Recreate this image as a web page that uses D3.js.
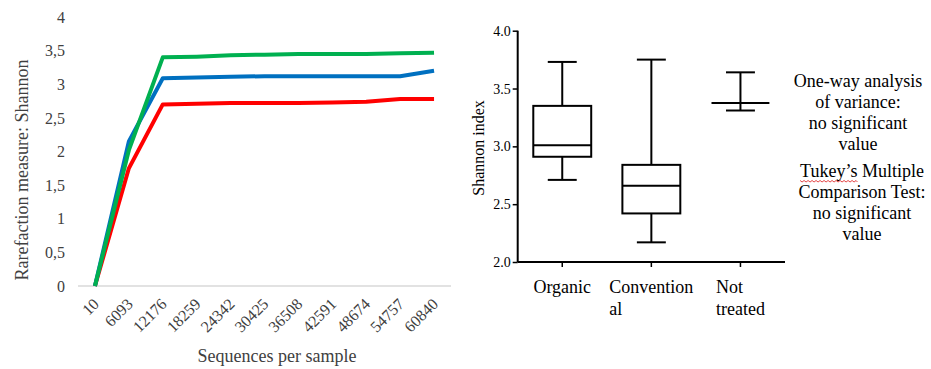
<!DOCTYPE html>
<html>
<head>
<meta charset="utf-8">
<script src="https://cdn.jsdelivr.net/npm/d3@7"></script>
<style>
  html, body { margin: 0; padding: 0; background: #fff; }
  svg { display: block; }
  text { font-family: "Liberation Serif", "Times New Roman", serif; }
</style>
</head>
<body>
<svg id="chart" width="931" height="369"></svg>
<script>
// ---- Rarefaction curves (Shannon) ----
const depths = ["10", "6093", "12176", "18259", "24342", "30425", "36508", "42591", "48674", "54757", "60840"];
const greenSeries = [0, 2.02, 3.40, 3.41, 3.43, 3.44, 3.45, 3.45, 3.45, 3.46, 3.47];
const blueSeries  = [0, 2.15, 3.09, 3.10, 3.11, 3.12, 3.12, 3.12, 3.12, 3.12, 3.20];
const redSeries   = [0, 1.75, 2.70, 2.71, 2.72, 2.72, 2.72, 2.73, 2.74, 2.78, 2.78];
const rarefactionTicks = [0, 0.5, 1, 1.5, 2, 2.5, 3, 3.5, 4];

// ---- Shannon index box plot ----
const groups = ["Organic", "Conventional", "Not treated"];
const groupLabelLines = [["Organic"], ["Convention", "al"], ["Not", "treated"]];
const boxMin    = [2.71, 2.17, 3.31];
const boxQ1     = [2.91, 2.42, 3.375];
const boxMedian = [3.01, 2.66, 3.375];
const boxQ3     = [3.35, 2.84, 3.375];
const boxMax    = [3.73, 3.75, 3.64];
const shannonTicks = [2.0, 2.5, 3.0, 3.5, 4.0];

const noteLines1 = ["One-way analysis", "of variance:", "no significant", "value"];
const noteLines2 = ["Tukey\u2019s Multiple", "Comparison Test:", "no significant", "value"];

const svg = d3.select("#chart");

// ================= Left: line chart =================
(function () {
  const x = d3.scaleBand().domain(depths).range([78, 451]).padding(0);
  const y = d3.scaleLinear().domain([0, 4]).range([286, 17]);
  const g = svg.append("g");
  const cx = d => x(d) + x.bandwidth() / 2;

  // baseline
  g.append("line")
    .attr("x1", 78).attr("x2", 451)
    .attr("y1", y(0)).attr("y2", y(0))
    .attr("stroke", "#d9d9d9").attr("stroke-width", 1.5);

  // y tick labels
  const yAxis = d3.axisLeft(y).tickValues(rarefactionTicks).tickSize(0).tickPadding(0)
    .tickFormat(v => String(v).replace(".", ","));
  const ya = g.append("g").attr("transform", "translate(65,0)").call(yAxis);
  ya.select(".domain").remove();
  ya.selectAll("text")
    .attr("font-family", null)
    .attr("font-size", 16).attr("fill", "#404040");
  ya.attr("font-family", null);

  // x tick labels, rotated
  g.selectAll("text.xt").data(depths).enter().append("text")
    .attr("class", "xt")
    .attr("transform", d => `translate(${cx(d) + 5},${305}) rotate(-45)`)
    .attr("text-anchor", "end")
    .attr("font-size", 16).attr("fill", "#404040")
    .text(d => d);

  // lines
  const line = d3.line().x((v, i) => cx(depths[i])).y(v => y(v));
  const series = [
    { values: redSeries, color: "#ff0000" },
    { values: blueSeries, color: "#0070c0" },
    { values: greenSeries, color: "#00b050" }
  ];
  g.selectAll("path.series").data(series).enter().append("path")
    .attr("class", "series")
    .attr("d", s => line(s.values))
    .attr("fill", "none")
    .attr("stroke", s => s.color)
    .attr("stroke-width", 4)
    .attr("stroke-linejoin", "round");

  // axis titles
  g.append("text")
    .attr("transform", "translate(28,170) rotate(-90)")
    .attr("text-anchor", "middle")
    .attr("font-size", 18).attr("fill", "#404040")
    .text("Rarefaction measure:  Shannon");
  g.append("text")
    .attr("x", 277).attr("y", 362)
    .attr("text-anchor", "middle")
    .attr("font-size", 18).attr("fill", "#404040")
    .text("Sequences per sample");
})();

// ================= Right: box plot =================
(function () {
  const x = d3.scaleBand().domain(groups).range([517.7, 785]).padding(0);
  const y = d3.scaleLinear().domain([2, 4]).range([262, 30.7]);
  const g = svg.append("g");
  const cx = d => x(d) + x.bandwidth() / 2;
  const boxW = x.bandwidth() * 0.65;
  const capW = boxW / 2;

  // y axis
  const ya = g.append("g").attr("transform", "translate(517.7,0)")
    .call(d3.axisLeft(y).tickValues(shannonTicks).tickSize(5).tickPadding(2).tickFormat(d3.format(".1f")));
  ya.attr("font-family", null);
  ya.select(".domain").attr("stroke", "#000").attr("stroke-width", 2).attr("d", `M0,${y(4)}V${y(2)}`);
  ya.selectAll(".tick line").attr("stroke", "#000").attr("stroke-width", 1.5);
  ya.selectAll("text").attr("font-size", 14).attr("fill", "#000");

  // x axis
  const xa = g.append("g").attr("transform", `translate(0,${y(2)})`)
    .call(d3.axisBottom(x).tickSize(5).tickFormat(""));
  xa.select(".domain").attr("stroke", "#000").attr("stroke-width", 2).attr("d", `M517.7,0H785`);
  xa.selectAll(".tick line").attr("stroke", "#000").attr("stroke-width", 1.5);

  // group labels (lines left-aligned within a centered block)
  groups.forEach((grp, i) => {
    const t = g.append("text").attr("font-size", 18).attr("fill", "#000");
    groupLabelLines[i].forEach((ln, j) => {
      t.append("tspan").attr("y", 293 + j * 22).text(ln);
    });
    const w = d3.max(t.selectAll("tspan").nodes(), n => n.getComputedTextLength());
    t.selectAll("tspan").attr("x", cx(grp) - w / 2);
  });

  // y title
  g.append("text")
    .attr("transform", "translate(484,148) rotate(-90)")
    .attr("text-anchor", "middle")
    .attr("font-size", 16).attr("fill", "#000")
    .text("Shannon index");

  // boxes and whiskers
  const data = groups.map((grp, i) => ({
    grp, min: boxMin[i], q1: boxQ1[i], med: boxMedian[i], q3: boxQ3[i], max: boxMax[i]
  }));
  const bg = g.selectAll("g.box").data(data).enter().append("g").attr("class", "box")
    .attr("stroke", "#000").attr("stroke-width", 2).attr("fill", "none");
  bg.append("line")
    .attr("x1", d => cx(d.grp)).attr("x2", d => cx(d.grp))
    .attr("y1", d => y(d.max)).attr("y2", d => y(d.q3));
  bg.append("line")
    .attr("x1", d => cx(d.grp)).attr("x2", d => cx(d.grp))
    .attr("y1", d => y(d.q1)).attr("y2", d => y(d.min));
  bg.append("line")
    .attr("x1", d => cx(d.grp) - capW / 2).attr("x2", d => cx(d.grp) + capW / 2)
    .attr("y1", d => y(d.max)).attr("y2", d => y(d.max));
  bg.append("line")
    .attr("x1", d => cx(d.grp) - capW / 2).attr("x2", d => cx(d.grp) + capW / 2)
    .attr("y1", d => y(d.min)).attr("y2", d => y(d.min));
  bg.append("rect")
    .attr("x", d => cx(d.grp) - boxW / 2).attr("width", boxW)
    .attr("y", d => y(d.q3)).attr("height", d => y(d.q1) - y(d.q3));
  bg.append("line")
    .attr("x1", d => cx(d.grp) - boxW / 2).attr("x2", d => cx(d.grp) + boxW / 2)
    .attr("y1", d => y(d.med)).attr("y2", d => y(d.med));

  // statistics note
  const note = (lines, cxn, y0) => {
    const t = g.append("text").attr("font-size", 18).attr("fill", "#000").attr("text-anchor", "middle");
    lines.forEach((ln, j) => t.append("tspan").attr("x", cxn).attr("y", y0 + j * 21).text(ln));
    return t;
  };
  note(noteLines1, 858, 86.7);
  const t2 = note(noteLines2, 862, 177.3);

  // spell-check style wavy underline under the first word
  const first = t2.select("tspan").node();
  const full = first.getComputedTextLength();
  const wordLen = first.getSubStringLength(0, 7);
  const x0 = 862 - full / 2, x1 = x0 + wordLen;
  const yU = 180.5;
  let dPath = `M${x0},${yU}`;
  for (let xx = x0, k = 0; xx < x1; xx += 2, k++) {
    dPath += `L${Math.min(xx + 2, x1)},${yU + (k % 2 === 0 ? 1.5 : 0)}`;
  }
  g.append("path").attr("d", dPath).attr("fill", "none").attr("stroke", "#e03030").attr("stroke-width", 0.9);
})();
</script>
</body>
</html>
